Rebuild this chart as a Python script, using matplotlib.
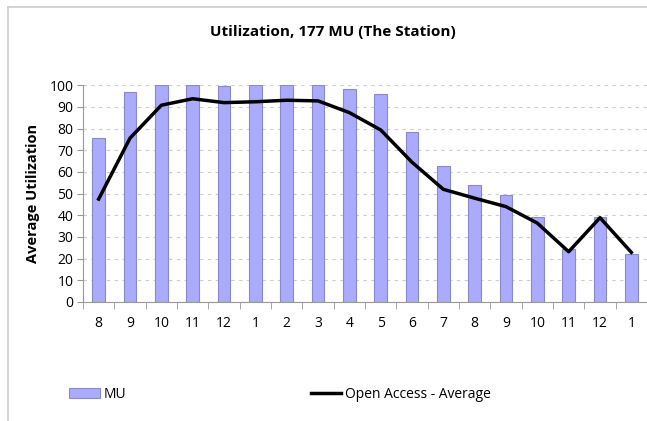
import matplotlib.pyplot as plt
import numpy as np

plt.rcParams['font.family'] = ['Open Sans', 'DejaVu Sans']

months = ['8', '9', '10', '11', '12', '1', '2', '3', '4', '5',
          '6', '7', '8', '9', '10', '11', '12', '1']
mu = [75.5, 97, 100, 100, 99.7, 100, 100, 100, 98.5, 96,
      78.5, 62.7, 54, 49.6, 39.3, 24.5, 39, 22.3]
open_access = [47.5, 75.6, 90.8, 93.8, 92, 92.4, 93.1, 92.8, 87.4, 79.4,
               64.5, 52, 47.9, 44, 36.4, 23.2, 38.9, 22.9]

fig = plt.figure(figsize=(6.47, 4.21), dpi=100)
ax = fig.add_axes([0.1283, 0.2827, 0.8717, 0.5147])

x = np.arange(len(months))
bars = ax.bar(x, mu, width=0.4, color='#aaaaff', edgecolor='#8a8ac8',
              linewidth=0.8, label='MU', zorder=2)
line, = ax.plot(x, open_access, color='black', linewidth=2.5,
                label='Open Access - Average', zorder=3)

ax.set_xlim(-0.5, len(months) - 0.5)
ax.set_ylim(0, 100)
ax.set_yticks(range(0, 101, 10))
ax.yaxis.grid(True, linestyle=(0, (3, 4)), color='#cccccc', linewidth=0.8, zorder=0)

# category labels centered, tick marks between categories
ax.set_xticks(x)
ax.set_xticklabels(months)
ax.tick_params(axis='x', length=0, pad=10, labelsize=10)
ax.set_xticks(np.arange(-0.5, len(months), 1), minor=True)
ax.tick_params(axis='x', which='minor', length=5, color='#999999', direction='out')
ax.tick_params(axis='y', length=4, color='#999999', labelsize=10, pad=3)

for s in ['top', 'right']:
    ax.spines[s].set_visible(False)
for s in ['left', 'bottom']:
    ax.spines[s].set_color('#999999')

ax.set_ylabel('Average Utilization', fontsize=10.5, fontweight='bold', labelpad=7)
fig.text(0.515, 0.925, 'Utilization, 177 MU (The Station)', ha='center',
         va='center', fontsize=11, fontweight='bold')

fig.legend(handles=[bars, line], loc='center left',
           bbox_to_anchor=(0.088, 1 - 394 / 421), ncol=2, frameon=False,
           fontsize=10, handlelength=2.2, handletextpad=0.25,
           columnspacing=13.3)

# partial frame around the chart area (top and left edges visible)
fig.add_artist(plt.Line2D([8 / 647, 8 / 647], [0, 1 - 7 / 421],
                          color='#cccccc', linewidth=1.2, transform=fig.transFigure))
fig.add_artist(plt.Line2D([8 / 647, 1], [1 - 7 / 421, 1 - 7 / 421],
                          color='#cccccc', linewidth=1.2, transform=fig.transFigure))

plt.savefig('out.png', dpi=100)
